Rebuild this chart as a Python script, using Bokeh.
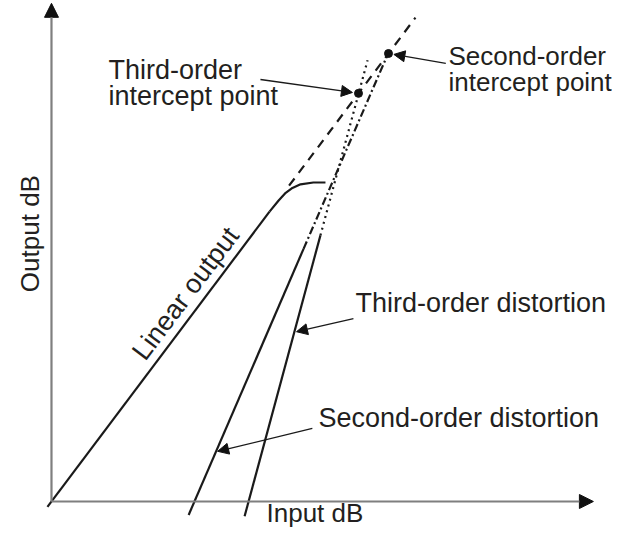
from bokeh.plotting import figure
from bokeh.models import Range1d, Arrow, NormalHead
from bokeh.core.properties import value
from bokeh.embed import file_html
from bokeh.resources import INLINE

# ---- data (arbitrary dB units; second-order intercept at 100/100) ----
linear_in = [-1.2, 64.7]
linear_out = [-1.2, 64.7]
compress_in = [64.7, 67.4, 69.5, 71.5, 73.9, 77.7, 81.3]
compress_out = [64.7, 67.2, 68.9, 70.0, 70.8, 71.2, 71.2]
linear_ext_in = [70.5, 108.0]
linear_ext_out = [70.5, 108.0]

second_in = [40.7, 74.8]
second_out = [-3.0, 56.4]
second_ext_in = [74.8, 100.0]
second_ext_out = [56.4, 100.2]

third_in = [57.3, 79.8]
third_out = [-3.3, 59.4]
third_ext_in = [79.8, 93.8]
third_ext_out = [59.4, 98.5]

intercept_in = [100.0, 91.1]
intercept_out = [100.0, 91.1]

axis_x_end = 160.8
axis_y_end = 111.2

FONT = value("Liberation Sans")
TXT = "#231f20"

p = figure(width=612, height=529, output_backend="svg", toolbar_location=None,
           x_range=Range1d(-15.13, 166.47), y_range=Range1d(-6.25, 111.83),
           min_border=0)
p.axis.visible = False
p.grid.visible = False
p.outline_line_color = None
p.background_fill_color = "white"
p.border_fill_color = "white"

# axes with arrowheads
for xs, ys, xe, ye in [(0, 0, axis_x_end, 0), (0, 0, 0, axis_y_end)]:
    p.add_layout(Arrow(end=NormalHead(size=14, fill_color="#111111", line_color="#111111"),
                       x_start=xs, y_start=ys, x_end=xe, y_end=ye,
                       line_color="#7f7f7f", line_width=2.2))

# linear output
p.line(linear_in, linear_out, line_color="#1a1a1a", line_width=2.2)
p.line(compress_in, compress_out, line_color="#1a1a1a", line_width=2.2, line_join="round")
p.line(linear_ext_in, linear_ext_out, line_color="#1a1a1a", line_width=2.2, line_dash="9 7")

# second-order distortion
p.line(second_in, second_out, line_color="#1a1a1a", line_width=2.2)
p.line(second_ext_in, second_ext_out, line_color="#1a1a1a", line_width=2.2, line_dash="8 3 2 3")

# third-order distortion
p.line(third_in, third_out, line_color="#1a1a1a", line_width=2.2)
p.line(third_ext_in, third_ext_out, line_color="#1a1a1a", line_width=2.2, line_dash="2 4")

# intercept points
p.scatter(intercept_in, intercept_out, size=8, marker="circle", fill_color="#111111", line_color="#111111")

# pointer arrows
pointers = [
    (62.0, 94.2, 89.3, 91.3),   # third-order intercept
    (117.0, 97.8, 101.6, 99.8), # second-order intercept
    (89.6, 40.8, 72.7, 37.9),   # third-order distortion
    (77.4, 16.3, 49.3, 11.2),   # second-order distortion
]
for xs, ys, xe, ye in pointers:
    p.add_layout(Arrow(end=NormalHead(size=11, fill_color="#111111", line_color="#111111"),
                       x_start=xs, y_start=ys, x_end=xe, y_end=ye,
                       line_color="#1a1a1a", line_width=1.3))

labels_x = [16.9, 16.9, 90.2, 79.2]
labels_y = [96.4, 90.6, 44.2, 18.7]
labels = ["Third-order", "intercept point",
          "Third-order distortion", "Second-order distortion"]
p.text(labels_x, labels_y, text=labels, text_font=FONT, text_font_size="27px",
       text_color=TXT, text_align="left", text_baseline="alphabetic")

p.text([63.8], [-2.46], text=["Input dB"], text_font=FONT, text_font_size="26px",
       text_color=TXT, text_align="left", text_baseline="alphabetic")

right_x = [117.8, 117.8]
right_y = [99.5, 93.7]
right_labels = ["Second-order", "intercept point"]
p.text(right_x, right_y, text=right_labels, text_font=FONT, text_font_size="26px",
       text_color=TXT, text_align="left", text_baseline="alphabetic")

p.text([-6.23], [59.8], text=["Output dB"], angle=1.5708, text_font=FONT, text_font_size="26px",
       text_color=TXT, text_align="center", text_baseline="alphabetic")
p.text([39.8], [46.4], text=["Linear output"], angle=0.925, text_font=FONT, text_font_size="27px",
       text_color=TXT, text_align="center", text_baseline="middle")

open("out.html", "w").write(file_html(p, INLINE))
